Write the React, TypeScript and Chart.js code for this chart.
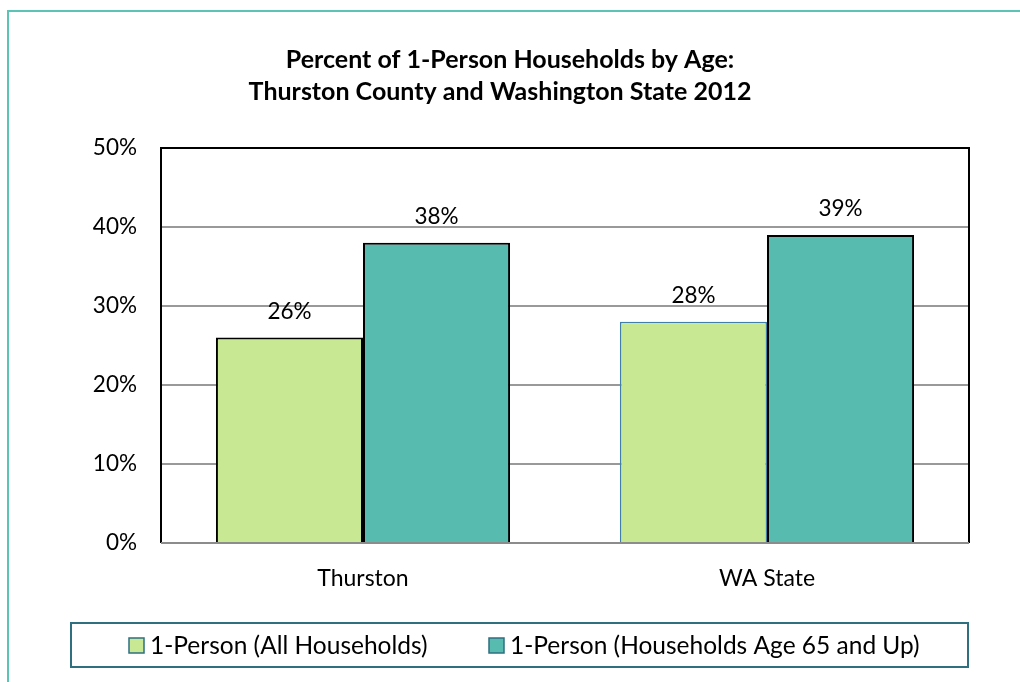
import React, { useEffect, useRef } from "react";
import { Chart, registerables } from "chart.js";

Chart.register(...registerables);

const categories = ["Thurston", "WA State"];
const allHouseholds = [26, 28];
const age65Up = [38, 39];
const seriesLabels = ["1-Person (All Households)", "1-Person (Households Age 65 and Up)"];
const titleLines = ["Percent of 1-Person Households by Age:", "Thurston County and Washington State 2012"];

const FONT = "Lato, 'Open Sans', sans-serif";
const GREEN = "#c8e893";
const TEAL = "#58bbb0";

const customDraw = {
  id: "customDraw",
  beforeDraw(chart: any) {
    const ctx = chart.ctx;
    ctx.save();
    ctx.fillStyle = "#fff";
    ctx.fillRect(0, 0, chart.width, chart.height);
    ctx.restore();
  },
  afterDraw(chart: any) {
    const ctx = chart.ctx;
    const area = chart.chartArea;
    ctx.save();
    // outer frame (left + top)
    ctx.strokeStyle = "#5cc4b4";
    ctx.lineWidth = 2;
    ctx.beginPath();
    ctx.moveTo(8, chart.height);
    ctx.lineTo(8, 11);
    ctx.lineTo(chart.width, 11);
    ctx.stroke();

    // plot border: top and right black, left black
    ctx.strokeStyle = "#000";
    ctx.lineWidth = 2;
    ctx.beginPath();
    ctx.moveTo(area.left, area.bottom);
    ctx.lineTo(area.left, area.top);
    ctx.lineTo(area.right, area.top);
    ctx.lineTo(area.right, area.bottom);
    ctx.stroke();
    ctx.strokeStyle = "#8c8c8c";
    ctx.beginPath();
    ctx.moveTo(area.left, area.bottom);
    ctx.lineTo(area.right, area.bottom);
    ctx.stroke();

    // title
    ctx.fillStyle = "#000";
    ctx.font = `bold 25px ${FONT}`;
    ctx.textAlign = "center";
    ctx.textBaseline = "middle";
    ctx.fillText(titleLines[0], 510, 60);
    ctx.fillText(titleLines[1], 500, 92);

    // data labels
    ctx.font = `22.5px ${FONT}`;
    chart.data.datasets.forEach((ds: any, di: number) => {
      const meta = chart.getDatasetMeta(di);
      meta.data.forEach((bar: any, i: number) => {
        ctx.fillText(`${ds.data[i]}%`, bar.x, bar.y - 26);
      });
    });

    // legend box
    ctx.strokeStyle = "#2e6f80";
    ctx.lineWidth = 2;
    ctx.strokeRect(71, 623, 897, 44);
    ctx.font = `24.5px ${FONT}`;
    ctx.textAlign = "left";
    const starts = [129, 489];
    chart.data.datasets.forEach((ds: any, di: number) => {
      const x = starts[di];
      ctx.fillStyle = ds.backgroundColor[0] || ds.backgroundColor;
      ctx.fillRect(x, 638, 15, 15);
      ctx.strokeStyle = "#2e6f80";
      ctx.lineWidth = 1.5;
      ctx.strokeRect(x, 638, 15, 15);
      ctx.fillStyle = "#000";
      ctx.fillText(ds.label, x + 21, 646);
    });
    ctx.restore();
  },
};

export default function App() {
  const ref = useRef<HTMLCanvasElement>(null);
  useEffect(() => {
    document.body.style.margin = "0";
    const chart = new Chart(ref.current!, {
      type: "bar",
      data: {
        labels: categories,
        datasets: [
          {
            label: seriesLabels[0],
            data: allHouseholds,
            backgroundColor: [GREEN, GREEN],
            borderColor: ["#000", "#3f7faa"],
            borderWidth: [2, 1.5] as any,
            borderSkipped: "bottom",
            categoryPercentage: 0.728,
            barPercentage: 1,
          },
          {
            label: seriesLabels[1],
            data: age65Up,
            backgroundColor: [TEAL, TEAL],
            borderColor: "#000",
            borderWidth: 2,
            borderSkipped: "bottom",
            categoryPercentage: 0.728,
            barPercentage: 1,
          },
        ],
      },
      options: {
        animation: false,
        responsive: false,
        devicePixelRatio: 1,
        layout: { padding: { top: 148, right: 51, bottom: 79, left: 0 } },
        plugins: { legend: { display: false }, title: { display: false }, tooltip: { enabled: false } },
        scales: {
          x: {
            grid: { display: false },
            border: { display: false },
            ticks: { color: "#000", font: { family: FONT, size: 23 }, padding: 14 },
            afterFit: (s: any) => { s.height = 60; },
          },
          y: {
            min: 0,
            max: 50,
            grid: { color: "#999", lineWidth: 2, drawTicks: false },
            border: { display: false },
            ticks: {
              stepSize: 10,
              color: "#000",
              font: { family: FONT, size: 22.5 },
              padding: 24,
              callback: (v: any) => `${v}%`,
            },
            afterFit: (s: any) => { s.width = 161; },
          },
        },
      },
      plugins: [customDraw],
    });
    return () => chart.destroy();
  }, []);
  return <canvas ref={ref} width={1020} height={682} style={{ display: "block" }} />;
}
